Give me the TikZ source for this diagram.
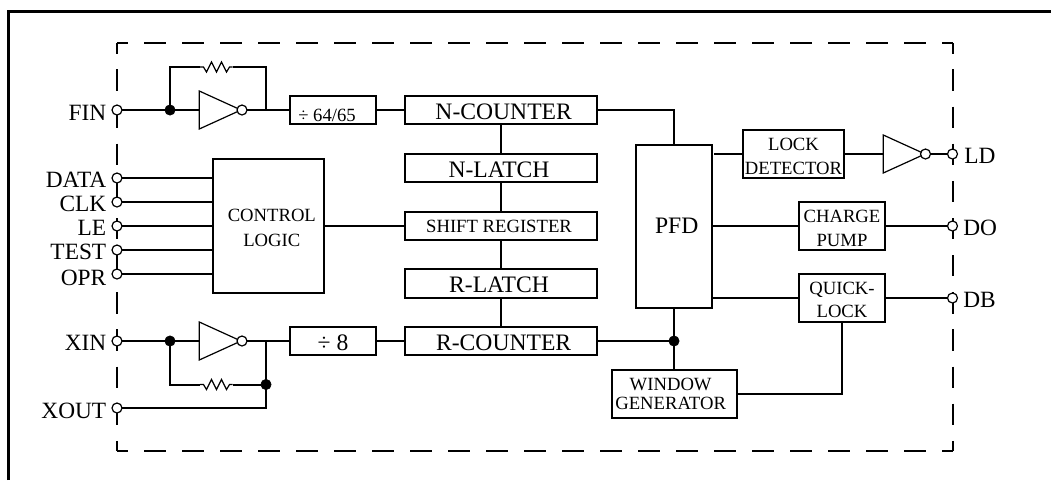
\documentclass[tikz,border=0pt]{standalone}
\usepackage{fontspec}
\setmainfont{Liberation Serif}
\usetikzlibrary{shapes.geometric}
\def\zigres(#1){\draw[reswire] (#1) -- ++(3.5,0) -- ++(3,5) -- ++(5,-10) -- ++(5,10) -- ++(5,-10) -- ++(5,10) -- ++(3,-5) -- ++(3,0);}
\def\lowtext{\rule{0pt}{12.5pt}}
\tikzset{
	wire/.style={line width=1.5pt},
	reswire/.style={line width=0.9pt},
	frameline/.style={line width=2.25pt},
	dashedline/.style={line width=1.5pt},
	blockbox/.style 2 args={draw, line width=1.5pt, outer sep=0pt, inner sep=0pt, align=center, minimum width=#1*0.75pt, minimum height=#2*0.75pt, font=\fontsize{14}{17}\selectfont},
	bigtext/.style={font=\fontsize{17.7}{20}\selectfont},
	pinlabel/.style={inner sep=0pt, font=\fontsize{17.5}{20}\selectfont},
	iopin/.style={draw, circle, fill=white, line width=0.9pt, inner sep=0pt, minimum size=7.5pt, outer sep=0pt},
	dotnode/.style={draw, circle, fill=black, inner sep=0pt, minimum size=7.8pt, outer sep=0pt},
	invtri/.style={draw, isosceles triangle, isosceles triangle apex angle=53, isosceles triangle stretches, line width=0.9pt, inner sep=0pt, outer sep=0pt, minimum width=28.5pt, minimum height=31.3pt},
}

\begin{document}
\begin{tikzpicture}[x=0.75pt, y=-0.75pt]
	\useasboundingbox (0,0) rectangle (1051,480);
	
	\draw[frameline] (8.5,480) -- (8.5,11.3) -- (1051,11.3);
	
	% dashed outline
	\draw[dashedline, dash pattern=on 16.5pt off 12pt, dash phase=8.25pt] (117,43) -- (952.5,43);
	\draw[dashedline, dash pattern=on 16.5pt off 12pt, dash phase=8.25pt] (117,451) -- (952.5,451);
	\draw[dashedline, dash pattern=on 16pt off 11.85pt, dash phase=8pt] (117,43) -- (117,451);
	\draw[dashedline, dash pattern=on 16pt off 11.85pt, dash phase=8pt] (952.5,43) -- (952.5,451);
	
	% pins
	\node[iopin] (fin) at (117,110) {};
	\node[iopin] (data) at (117,178) {};
	\node[iopin] (clk) at (117,202) {};
	\node[iopin] (le) at (117,226) {};
	\node[iopin] (test) at (117,250) {};
	\node[iopin] (opr) at (117,274) {};
	\node[iopin] (xin) at (117,341) {};
	\node[iopin] (xout) at (117,408) {};
	\node[iopin] (ld) at (952.5,154) {};
	\node[iopin] (do) at (952.5,226) {};
	\node[iopin] (db) at (952.5,298) {};
	
	\node[pinlabel, anchor=base east] (finlabel) at (106.5,120) {FIN};
	\node[pinlabel, anchor=base east] (datalabel) at (106.5,187) {DATA};
	\node[pinlabel, anchor=base east] (clklabel) at (106.5,211) {CLK};
	\node[pinlabel, anchor=base east] (lelabel) at (106.5,235) {LE};
	\node[pinlabel, anchor=base east] (testlabel) at (106.5,259) {TEST};
	\node[pinlabel, anchor=base east] (oprlabel) at (106.5,285) {OPR};
	\node[pinlabel, anchor=base east] (xinlabel) at (106.5,350) {XIN};
	\node[pinlabel, anchor=base east] (xoutlabel) at (106.5,418) {XOUT};
	\node[pinlabel, anchor=base west] (ldlabel) at (964,163) {LD};
	\node[pinlabel, anchor=base west] (dolabel) at (963,235) {DO};
	\node[pinlabel, anchor=base west] (dblabel) at (963,307) {DB};
	
	% blocks
	\node[blockbox={86}{28.5}, text height=17.5pt] (fdiv) at (333,110) {÷ 64/65\hspace*{9pt}};
	\node[blockbox={86}{28.5}, bigtext, text height=14pt] (xdiv) at (333,341) {÷ 8};
	\node[blockbox={192}{28.5}, bigtext, text height=14.5pt] (ncnt) at (501,110) {\hspace*{4pt}N-COUNTER};
	\node[blockbox={192}{28.5}, bigtext, text height=14pt] (nlat) at (501,168) {N-LATCH\hspace*{3pt}};
	\node[blockbox={192}{28.5}] (shift) at (501,226) {SHIFT REGISTER\hspace*{3pt}};
	\node[blockbox={192}{28.5}, bigtext, text height=13.5pt] (rlat) at (501,283.5) {R-LATCH\hspace*{3pt}};
	\node[blockbox={192}{28.5}, bigtext, text height=14pt] (rcnt) at (501,341) {\hspace*{4pt}R-COUNTER};
	\node[blockbox={111}{134}] (ctrl) at (268.5,226) {\lowtext\hspace*{5pt}CONTROL\\[1.5pt]\hspace*{5pt}LOGIC};
	\node[blockbox={76}{163}, bigtext] (pfd) at (674,226) {\hspace*{4pt}PFD};
	\node[blockbox={101}{48}] (lock) at (793.5,154) {\lowtext LOCK\\[1pt]DETECTOR};
	\node[blockbox={86}{48}] (chg) at (842,226) {\lowtext CHARGE\\[1pt]PUMP};
	\node[blockbox={86}{48}] (quick) at (842,298) {\lowtext QUICK-\\LOCK};
	\node[blockbox={125}{48}] (wgen) at (674,394) {WINDOW\hspace*{5pt}\\[-3pt]GENERATOR\hspace*{5pt}};
	
	% inverters
	\node[invtri] (finv) at (211.5,110) {};
	\node[invtri] (xinv) at (211.5,341) {};
	\node[invtri] (linv) at (895.5,154) {};
	\node[iopin] (fbub) at (242,110) {};
	\node[iopin] (xbub) at (242,341) {};
	\node[iopin] (lbub) at (925.5,154) {};
	
	% junctions
	\node[dotnode] (fdot) at (170,110) {};
	\node[dotnode] (xdot) at (170,341) {};
	\node[dotnode] (xfb) at (266,384.5) {};
	\node[dotnode] (pdot) at (674,341) {};
	\coordinate (fresa) at (200,67);
	\coordinate (fresb) at (232.5,67);
	\coordinate (xresa) at (200,384.5);
	\coordinate (xresb) at (232.5,384.5);
	\coordinate (fout) at (266,110);
	\coordinate (xoutj) at (266,341);
	\coordinate (pfdld) at (714,154);
	
	\draw[wire] (fin) -- (fdot) -- (finv.west);
	\draw[wire] (fdot) |- (fresa);
	\zigres(fresa);
	\draw[wire] (fresb) -| (fout);
	\draw[wire] (fbub) -- (fdiv.west);
	\draw[wire] (fdiv.east) -- (ncnt.west);
	
	\draw[wire] (xin) -- (xdot) -- (xinv.west);
	\draw[wire] (xdot) |- (xresa);
	\zigres(xresa);
	\draw[wire] (xresb) -- (xfb);
	\draw[wire] (xbub) -- (xdiv.west);
	\draw[wire] (xdiv.east) -- (rcnt.west);
	\draw[wire] (xout) -| (xoutj);
	
	\draw[wire] (data) -- (data -| ctrl.west);
	\draw[wire] (clk) -- (clk -| ctrl.west);
	\draw[wire] (le) -- (le -| ctrl.west);
	\draw[wire] (test) -- (test -| ctrl.west);
	\draw[wire] (opr) -- (opr -| ctrl.west);
	\draw[wire] (ctrl.east) -- (shift.west);
	
	\draw[wire] (ncnt) -- (nlat);
	\draw[wire] (nlat) -- (shift);
	\draw[wire] (shift) -- (rlat);
	\draw[wire] (rlat) -- (rcnt);
	
	\draw[wire] (ncnt.east) -| (pfd.north);
	\draw[wire] (rcnt.east) -- (pdot);
	\draw[wire] (pfd.south) -- (wgen.north);
	\draw[wire] (wgen.east) -| (quick.south);
	\draw[wire] (pfdld) -- (lock.west);
	\draw[wire] (pfd.east) -- (chg.west);
	\draw[wire] (pfd.east |- quick.west) -- (quick.west);
	\draw[wire] (lock.east) -- (linv.west);
	\draw[wire] (lbub) -- (ld);
	\draw[wire] (chg.east) -- (do);
	\draw[wire] (quick.east) -- (db);
\end{tikzpicture}
\end{document}
